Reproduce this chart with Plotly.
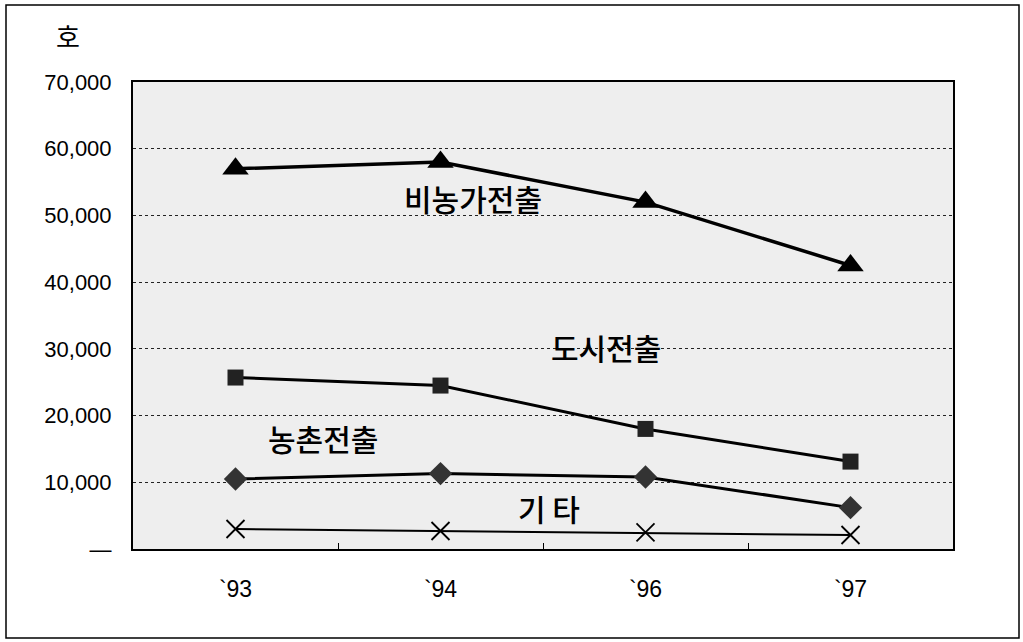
import plotly.graph_objects as go

years = ["`93", "`94", "`96", "`97"]
non_farm = [57000, 58000, 52000, 42500]     # 비농가전출
urban = [25700, 24500, 18000, 13100]        # 도시전출
rural = [10500, 11300, 10800, 6200]         # 농촌전출
other = [3000, 2700, 2500, 2100]            # 기 타
y_ticks = [0, 10000, 20000, 30000, 40000, 50000, 60000, 70000]
y_tick_text = ["—", "10,000", "20,000", "30,000", "40,000", "50,000", "60,000", "70,000"]

W, H = 1023, 642
L, R, T, B = 133, 70, 82, 93
pw, ph = W - L - R, H - T - B

num_font = "Liberation Sans, Arial, sans-serif"
kr_font = "Noto Sans CJK KR, Noto Sans CJK SC, sans-serif"

fig = go.Figure()
fig.add_trace(go.Scatter(x=years, y=non_farm, mode="lines+markers",
                         line=dict(color="black", width=3.5),
                         marker=dict(symbol="triangle-up", size=23, color="black"),
                         name="비농가전출"))
fig.add_trace(go.Scatter(x=years, y=urban, mode="lines+markers",
                         line=dict(color="black", width=3),
                         marker=dict(symbol="square", size=16, color="#222"),
                         name="도시전출"))
fig.add_trace(go.Scatter(x=years, y=rural, mode="lines+markers",
                         line=dict(color="black", width=3),
                         marker=dict(symbol="diamond", size=18, color="#333"),
                         name="농촌전출"))
fig.add_trace(go.Scatter(x=years, y=other, mode="lines+markers",
                         line=dict(color="black", width=2),
                         marker=dict(symbol="x-thin-open", size=18,
                                     line=dict(color="black", width=1.8)),
                         name="기 타"))

def px_to_paper_x(px):
    return (px - L) / pw

def px_to_paper_y(py):
    return (H - B - py) / ph

labels = [("비농가전출", 473, 198, 30), ("도시전출", 606, 347, 30),
          ("농촌전출", 323, 438, 30), ("기 타", 549, 508, 30)]
for txt, cx, cy, fs in labels:
    fig.add_annotation(x=px_to_paper_x(cx), y=px_to_paper_y(cy), xref="paper", yref="paper",
                       text=txt, showarrow=False, xanchor="center", yanchor="middle",
                       font=dict(family=kr_font, size=fs, color="black", weight=500))

fig.add_annotation(x=px_to_paper_x(68), y=px_to_paper_y(36), xref="paper", yref="paper",
                   text="호", showarrow=False, xanchor="center", yanchor="middle",
                   font=dict(family=kr_font, size=26, color="black"))

# outer frame
fig.add_shape(type="rect", xref="paper", yref="paper",
              x0=px_to_paper_x(6), x1=px_to_paper_x(1019),
              y0=px_to_paper_y(638), y1=px_to_paper_y(5),
              line=dict(color="black", width=1.5), layer="below")

fig.update_layout(
    width=W, height=H,
    margin=dict(l=L, r=R, t=T, b=B),
    paper_bgcolor="white",
    plot_bgcolor="#eeeeee",
    showlegend=False,
    font=dict(family=num_font, color="black"),
)
fig.update_xaxes(type="category", range=[-0.5, 3.5],
                 showline=True, linecolor="black", linewidth=2, mirror=True,
                 showgrid=False, ticks="inside", tickson="boundaries", ticklen=6,
                 tickcolor="black", tickfont=dict(family=num_font, size=23),
                 ticklabelstandoff=18, zeroline=False)
fig.update_yaxes(range=[0, 70000], tickvals=y_ticks, ticktext=y_tick_text,
                 showline=True, linecolor="black", linewidth=2, mirror=True,
                 showgrid=True, gridcolor="#222", griddash="dot", gridwidth=1,
                 ticks="", tickfont=dict(family=num_font, size=22),
                 ticklabelstandoff=15, zeroline=False)

fig.write_html("out.html", config={"displayModeBar": False},
               post_script="document.body.style.margin='0';")
